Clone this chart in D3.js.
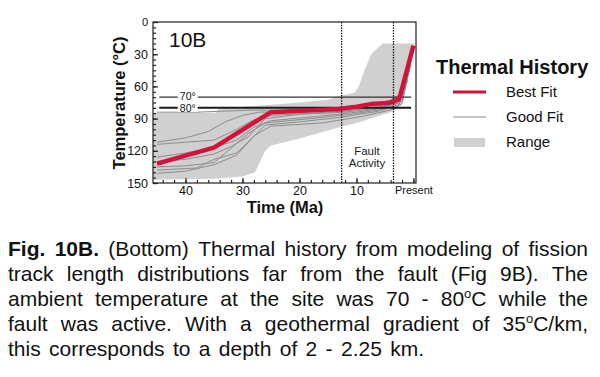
<!DOCTYPE html>
<html><head><meta charset="utf-8">
<script src="https://cdn.jsdelivr.net/npm/d3@7"></script>
<style>body{margin:0;background:#fff} svg{display:block} text{font-family:"Liberation Sans",Arial,Helvetica,sans-serif}</style>
</head><body><svg id="c" width="600" height="377"></svg>
<script>
// ---------- data ----------
const timeTicks = [40, 30, 20, 10, 0];
const timeTickLabels = ["40", "30", "20", "10", "Present"];
const timeMinorTicks = d3.range(0, 46, 2);
const tempTicks = [0, 30, 60, 90, 120, 150];
const tempMinorTicks = d3.range(0, 151, 5);
const isotherms = [70, 80];
const isothermLabels = ["70°", "80°"];
const isothermSpan = [44.6, 0.4];
const isothermLabelTime = 39.6;
const faultActivity = [12.6, 3.5];
const faultLabel = ["Fault", "Activity"];
const faultLabelPos = [[8.15, 124], [8.15, 135]];

const bestFit = [[45,132],[35,117],[25,84],[13,81],[10,79],[7.5,76.5],[4.5,75.5],[2.5,72],[0,22]];

const goodFits = [
  [[45,112],[40,108],[36,102],[33,93],[30,87],[27,84],[20,83],[13,81],[8,77],[4,74],[2,70],[0.5,40]],
  [[45,114],[40,112],[35,110],[31,100],[28,91],[25,87],[18,85],[12,83],[6,79],[3,75],[1,50]],
  [[45,126],[40,122],[35,117],[31,110],[28,98],[25,92],[17,88],[10,84],[5,80],[2.5,73],[0.8,45]],
  [[45,135],[40,134],[35,131],[33,122],[29,104],[26,94],[18,90],[11,86],[5,81],[2,74],[0.5,38]],
  [[45,138],[38,136],[35,128],[31,122],[29,112],[26,96],[20,93],[13,89],[6,83],[2.5,77],[1,48]],
  [[45,141],[40,139],[35,133],[31,124],[28,106],[25,97],[16,94],[9,88],[4,82],[2,76],[0.6,42]],
  [[45,84],[38,84],[33,83],[28,82],[22,82],[14,80],[8,77],[4,73],[2,66],[0.3,28]],
  [[45,130],[40,128],[35,123],[32,116],[29,107],[26,90],[20,86],[12,84],[6,80],[3,76],[1,55]]
];

const rangeUpper = [[45.7,84.5],[34.6,84.5],[34.2,80.5],[30,79],[25,77],[20,75],[15,72.5],[13,69],[10.3,66],[9.6,60],[8.6,45],[7.4,30],[5.4,20],[-0.3,20],[0.3,30]];
const rangeLower = [[2.2,78],[4,84],[7.5,90],[10,94],[13,98],[17,104],[21,110],[25,115],[26,120],[27.8,140],[30,144],[35,146],[45.7,147]];

const captionLines = [
  ["**Fig.", "**10B.", "(Bottom)", "Thermal", "history", "from", "modeling", "of", "fission"],
  "track length distributions far from the fault (Fig 9B). The".split(" "),
  "ambient temperature at the site was 70 - 80^oC while the".split(" "),
  "fault was active. With a geothermal gradient of 35^oC/km,".split(" "),
  "this corresponds to a depth of 2 - 2.25 km.".split(" ")
];

// ---------- layout ----------
const svg = d3.select("#c");
const x = d3.scaleLinear().domain([45.7, -0.45]).range([153, 416]);
const y = d3.scaleLinear().domain([0, 150]).range([22, 183]);
const RED = "#d3123b";

const plot = svg.append("g");

// range band
plot.append("path")
  .attr("d", d3.line().x(d => x(d[0])).y(d => y(d[1]))(rangeUpper.concat(rangeLower)) + "Z")
  .attr("fill", "#d0d0d0");

// good fits
plot.selectAll(".gf").data(goodFits).join("path")
  .attr("d", d3.line().x(d => x(d[0])).y(d => y(d[1])))
  .attr("fill", "none").attr("stroke", "#8c8c8c").attr("stroke-width", 1);

// isotherms
isotherms.forEach((t, i) => {
  plot.append("line")
    .attr("x1", x(isothermSpan[0])).attr("x2", x(isothermSpan[1]))
    .attr("y1", y(t)).attr("y2", y(t))
    .attr("stroke", i === 0 ? "#333" : "#1a1a1a").attr("stroke-width", i === 0 ? 1.3 : 2);
  const lbl = plot.append("text")
    .attr("x", x(isothermLabelTime)).attr("y", y(t) + 3.8 + (i === 0 ? -0.5 : 0.5))
    .attr("text-anchor", "middle").attr("font-size", 10.5).attr("fill", "#111")
    .text(isothermLabels[i]);
  const bb = lbl.node().getBBox();
  plot.insert("rect", () => lbl.node())
    .attr("x", bb.x - 2).attr("y", y(t) - 4).attr("width", bb.width + 4).attr("height", 8)
    .attr("fill", "#fff");
});

// fault activity dotted lines
plot.selectAll(".fa").data(faultActivity).join("line")
  .attr("x1", d => x(d)).attr("x2", d => x(d))
  .attr("y1", y(0)).attr("y2", y(150))
  .attr("stroke", "#111").attr("stroke-width", 1.3).attr("stroke-dasharray", "1.5,1.2");

plot.selectAll(".fl").data(faultLabel).join("text")
  .attr("x", (d, i) => x(faultLabelPos[i][0])).attr("y", (d, i) => y(faultLabelPos[i][1]))
  .attr("text-anchor", "middle").attr("font-size", 11.5).attr("fill", "#222")
  .text(d => d);

// best fit
plot.append("path")
  .attr("d", d3.line().x(d => x(d[0])).y(d => y(d[1]))(bestFit))
  .attr("fill", "none").attr("stroke", RED).attr("stroke-width", 4.5)
  .attr("stroke-linejoin", "round");

// frame
svg.append("rect").attr("x", 153).attr("y", 22).attr("width", 263).attr("height", 161)
  .attr("fill", "none").attr("stroke", "#222").attr("stroke-width", 1.2);

// axes
svg.append("g").attr("transform", "translate(153,0)")
  .call(d3.axisLeft(y).tickValues(tempTicks).tickSize(-5).tickSizeOuter(0).tickPadding(5));
svg.append("g").attr("transform", "translate(153,0)")
  .call(d3.axisLeft(y).tickValues(tempMinorTicks).tickFormat("").tickSize(-3).tickSizeOuter(0));
svg.append("g").attr("transform", "translate(0,183)")
  .call(d3.axisBottom(x).tickValues(timeTicks).tickFormat((d, i) => timeTickLabels[i])
    .tickSize(-5).tickSizeOuter(0).tickPadding(3));
svg.append("g").attr("transform", "translate(0,183)")
  .call(d3.axisBottom(x).tickValues(timeMinorTicks).tickFormat("").tickSize(-3).tickSizeOuter(0));
svg.selectAll(".domain").remove();
svg.selectAll(".tick line").attr("stroke", "#222").attr("stroke-width", 1.2);
svg.selectAll(".tick text").attr("font-size", d => d === 0 ? 11 : 12.5).attr("fill", "#111")
  .attr("font-family", '"Liberation Sans",Arial,sans-serif');

// axis titles
svg.append("text").attr("transform", "translate(125,103) rotate(-90)")
  .attr("text-anchor", "middle").attr("font-size", 16.5).attr("font-weight", "bold").attr("fill", "#111")
  .text("Temperature (°C)");
svg.append("text").attr("x", 285).attr("y", 213)
  .attr("text-anchor", "middle").attr("font-size", 16.5).attr("font-weight", "bold").attr("fill", "#111")
  .text("Time (Ma)");

svg.append("text").attr("x", 169).attr("y", 47).attr("font-size", 21).attr("fill", "#111").text("10B");

// legend
const leg = svg.append("g");
leg.append("text").attr("x", 436).attr("y", 74).attr("font-size", 20).attr("font-weight", "bold")
  .attr("fill", "#111").text("Thermal History");
leg.append("line").attr("x1", 453).attr("x2", 486).attr("y1", 92).attr("y2", 92)
  .attr("stroke", RED).attr("stroke-width", 3);
leg.append("line").attr("x1", 453).attr("x2", 486).attr("y1", 117).attr("y2", 117)
  .attr("stroke", "#8c8c8c").attr("stroke-width", 1);
leg.append("rect").attr("x", 454).attr("y", 138).attr("width", 31).attr("height", 9)
  .attr("fill", "#d0d0d0");
[["Best Fit", 97], ["Good Fit", 122], ["Range", 147]].forEach(([t, yy]) =>
  leg.append("text").attr("x", 506).attr("y", yy).attr("font-size", 15).attr("fill", "#111").text(t));

// caption (justified)
const cap = svg.append("g");
const capLeft = 8, capSize = 21;
const lineRights = [588, 588, 588, 588, 424];
const baselines = [256, 281, 306, 331, 356];
captionLines.forEach((words, li) => {
  const nodes = words.map(w => {
    let bold = false;
    if (w.startsWith("**")) { bold = true; w = w.slice(2); }
    const t = cap.append("text").attr("y", baselines[li]).attr("font-size", capSize)
      .attr("fill", "#111").attr("font-weight", bold ? "bold" : "normal");
    const parts = w.split("^");
    if (parts.length === 1) { t.text(w); }
    else {
      t.append("tspan").text(parts[0]);
      t.append("tspan").attr("dy", -8).attr("font-size", 13).text(parts[1][0]);
      t.append("tspan").attr("dy", 8).text(parts[1].slice(1));
    }
    return t;
  });
  const widths = nodes.map(n => n.node().getComputedTextLength());
  const total = d3.sum(widths);
  const gap = (lineRights[li] - capLeft - total) / (nodes.length - 1);
  let cx = capLeft;
  nodes.forEach((n, i) => { n.attr("x", cx); cx += widths[i] + gap; });
});
</script></body></html>
